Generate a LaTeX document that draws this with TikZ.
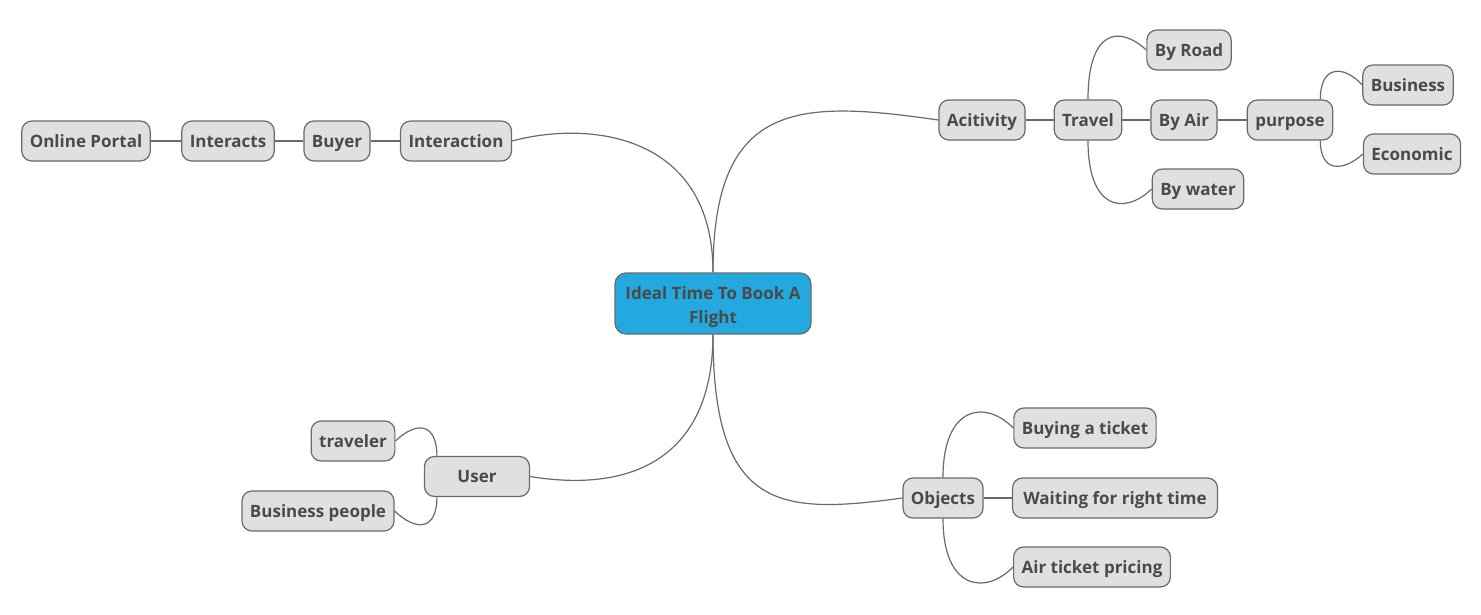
\documentclass[tikz,border=0pt]{standalone}
\usepackage{fontspec}
\setmainfont{Open Sans}
\usepackage{tikz}
\usetikzlibrary{shapes,arrows,backgrounds,positioning}

\definecolor{boxfill}{HTML}{E0E0E0}
\definecolor{boxline}{HTML}{6A6A6A}
\definecolor{ink}{HTML}{4A4A4A}
\definecolor{topicblue}{HTML}{24A8E0}

\begin{document}
\begin{tikzpicture}[x=1pt,y=-1pt]
			\tikzstyle{Topic}	= [rectangle, rounded corners=11pt, draw=boxline, line width=1.2pt, fill=topicblue, text=ink, font=\fontsize{17}{24}\selectfont\bfseries, align=center, minimum width=196pt, minimum height=61pt, inner sep=0pt, text height=43pt, text depth=4pt]
			\tikzstyle{Sub}		= [rectangle, rounded corners=10pt, draw=boxline, line width=1.2pt, fill=boxfill, text=ink, font=\fontsize{17}{20}\selectfont\bfseries, minimum height=40pt, inner xsep=8pt, text height=14pt, text depth=2pt]
			\tikzstyle{Link}	= [draw=boxline, line width=1.2pt]

			\useasboundingbox [fill=white] (0,0) rectangle (1481,614);

			\node (ideal) at (713,303.5) [Topic] {Ideal Time To Book A\\Flight};

			% left, upper
			\node (interaction) at (456,141) [Sub] {Interaction};
			\node (buyer) at (337,141) [Sub] {Buyer};
			\node (interacts) at (228,141) [Sub] {Interacts};
			\node (portal) at (86,141) [Sub] {Online Portal};

			% right, upper
			\node (activity) at (982,120) [Sub] {Acitivity};
			\node (travel) at (1088,120) [Sub] {Travel};
			\node (air) at (1184,120) [Sub] {By Air};
			\node (purpose) at (1290,120) [Sub] {purpose};
			\node (road) at (1189,50) [Sub] {By Road};
			\node (water) at (1198,189) [Sub] {By water};
			\node (business) at (1408,85) [Sub] {Business};
			\node (economic) at (1412,154) [Sub] {Economic};

			% right, lower
			\node (objects) at (943,498) [Sub] {Objects};
			\node (buying) at (1085,428) [Sub] {Buying a ticket};
			\node (waiting) at (1115,498) [Sub, minimum width=205pt] {Waiting for right time};
			\node (pricing) at (1092,567) [Sub] {Air ticket pricing};

			% left, lower
			\node (user) at (477,476.5) [Sub, minimum width=105pt] {User};
			\node (traveler) at (353,441) [Sub] {traveler};
			\node (bpeople) at (318,511) [Sub] {Business people};

			\draw [Link] (ideal.north) .. controls +(0,-138) and +(78,-21) .. (interaction.east);
			\draw [Link] (ideal.north) .. controls +(0,-173) and +(-139,-20) .. (activity.west);
			\draw [Link] (ideal.south) .. controls +(0,116) and +(110,18) .. (user.east);
			\draw [Link] (ideal.south) .. controls +(0,176) and +(-123,17) .. (objects.west);

			\draw [Link] (interaction) to (buyer);
			\draw [Link] (buyer) to (interacts);
			\draw [Link] (interacts) to (portal);

			\draw [Link] (activity) to (travel);
			\draw [Link] (travel) to (air);
			\draw [Link] (air) to (purpose);
			\draw [Link] (travel.north) .. controls +(0,-70) and +(-27,-25) .. (road.west);
			\draw [Link] (travel.south) .. controls +(0,70) and +(-27,26) .. (water.west);
			\draw [Link] ([xshift=-13pt]purpose.north east) .. controls +(0,-35) and +(-18,-20) .. (business.west);
			\draw [Link] ([xshift=-13pt]purpose.south east) .. controls +(0,32) and +(-20,18) .. (economic.west);

			\draw [Link] (objects) to (waiting);
			\draw [Link] (objects.north) .. controls +(0,-73) and +(-27,-28) .. (buying.west);
			\draw [Link] (objects.south) .. controls +(0,72) and +(-27,28) .. (pricing.west);

			\draw [Link] ([xshift=13pt]user.north west) .. controls +(0,-32) and +(22,-21) .. (traveler.east);
			\draw [Link] ([xshift=13pt]user.south west) .. controls +(0,33) and +(22,21) .. (bpeople.east);
		\end{tikzpicture}
\end{document}
